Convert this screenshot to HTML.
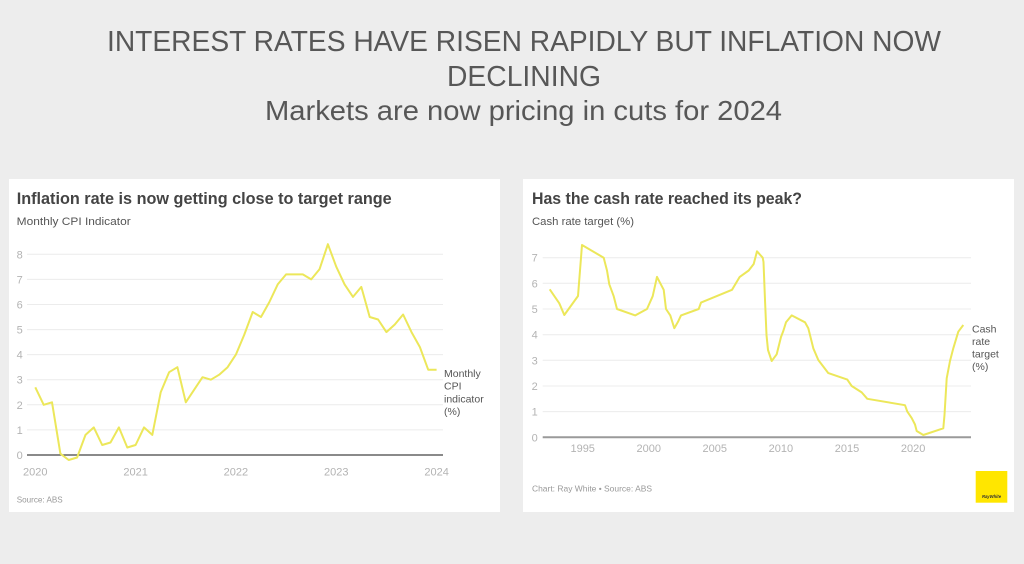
<!DOCTYPE html>
<html>
<head>
<meta charset="utf-8">
<style>
html,body{margin:0;padding:0;background:#ededed;}
svg{display:block;}
text{font-family:"Liberation Sans",sans-serif;}
</style>
</head>
<body>
<svg width="1024" height="564" viewBox="0 0 1024 564" xmlns="http://www.w3.org/2000/svg">
<rect x="0" y="0" width="1024" height="564" fill="#ededed"/>

<!-- Main titles -->
<text x="524" y="51" text-anchor="middle" font-size="29" fill="#575757" textLength="834" lengthAdjust="spacingAndGlyphs">INTEREST RATES HAVE RISEN RAPIDLY BUT INFLATION NOW</text>
<text x="524" y="86" text-anchor="middle" font-size="29" fill="#575757" textLength="154" lengthAdjust="spacingAndGlyphs">DECLINING</text>
<text x="523.5" y="120" text-anchor="middle" font-size="28" fill="#575757" textLength="517" lengthAdjust="spacingAndGlyphs">Markets are now pricing in cuts for 2024</text>

<!-- Panels -->
<rect x="9" y="179" width="491" height="333" fill="#ffffff"/>
<rect x="523" y="179" width="491" height="333" fill="#ffffff"/>

<!-- ===== Chart 1 ===== -->
<text x="16.7" y="204" font-size="17" font-weight="bold" fill="#444" textLength="375" lengthAdjust="spacingAndGlyphs">Inflation rate is now getting close to target range</text>
<text x="16.7" y="225" font-size="11" fill="#555" textLength="114" lengthAdjust="spacingAndGlyphs">Monthly CPI Indicator</text>

<g stroke="#ececec" stroke-width="1">
<line x1="27" y1="429.9" x2="443" y2="429.9"/>
<line x1="27" y1="404.8" x2="443" y2="404.8"/>
<line x1="27" y1="379.7" x2="443" y2="379.7"/>
<line x1="27" y1="354.6" x2="443" y2="354.6"/>
<line x1="27" y1="329.6" x2="443" y2="329.6"/>
<line x1="27" y1="304.5" x2="443" y2="304.5"/>
<line x1="27" y1="279.4" x2="443" y2="279.4"/>
<line x1="27" y1="254.3" x2="443" y2="254.3"/>
</g>
<line x1="27" y1="455" x2="443" y2="455" stroke="#444" stroke-width="1.2"/>

<g font-size="11" fill="#b3b3b3" text-anchor="middle">
<text x="19.7" y="459">0</text>
<text x="19.7" y="433.9">1</text>
<text x="19.7" y="408.8">2</text>
<text x="19.7" y="383.7">3</text>
<text x="19.7" y="358.6">4</text>
<text x="19.7" y="333.6">5</text>
<text x="19.7" y="308.5">6</text>
<text x="19.7" y="283.4">7</text>
<text x="19.7" y="258.3">8</text>
<text x="35.3" y="475.5">2020</text>
<text x="135.6" y="475.5">2021</text>
<text x="235.9" y="475.5">2022</text>
<text x="336.3" y="475.5">2023</text>
<text x="436.6" y="475.5">2024</text>
</g>

<polyline fill="none" stroke="#ece75a" stroke-width="2" stroke-linejoin="round" points="35.3,387.3 43.7,404.8 52.0,402.3 60.4,453.7 68.7,460.0 77.1,457.5 85.5,434.9 93.8,427.4 102.2,445.0 110.5,442.5 118.9,427.4 127.3,447.5 135.6,445.0 144.0,427.4 152.3,434.9 160.7,392.3 169.1,372.2 177.4,367.2 185.8,402.3 194.1,389.8 202.5,377.2 210.9,379.7 219.2,374.7 227.6,367.2 235.9,354.6 244.3,334.6 252.7,312.0 261.0,317.0 269.4,302.0 277.7,284.4 286.1,274.4 294.5,274.4 302.8,274.4 311.2,279.4 319.5,269.3 327.9,244.2 336.3,266.8 344.6,284.4 353.0,296.9 361.3,286.9 369.7,317.0 378.1,319.5 386.4,332.1 394.8,324.5 403.1,314.5 411.5,332.1 419.9,347.1 428.2,369.7 436.6,369.7"/>

<g font-size="10.5" fill="#555">
<text x="444" y="377">Monthly</text>
<text x="444" y="389.7">CPI</text>
<text x="444" y="402.4">indicator</text>
<text x="444" y="415">(%)</text>
</g>

<text x="16.7" y="502.5" font-size="8.5" fill="#999" textLength="46" lengthAdjust="spacingAndGlyphs">Source: ABS</text>

<!-- ===== Chart 2 ===== -->
<text x="532" y="204" font-size="17" font-weight="bold" fill="#444" textLength="270" lengthAdjust="spacingAndGlyphs">Has the cash rate reached its peak?</text>
<text x="532" y="225" font-size="11" fill="#555" textLength="102" lengthAdjust="spacingAndGlyphs">Cash rate target (%)</text>

<g stroke="#ececec" stroke-width="1">
<line x1="542.7" y1="411.6" x2="971" y2="411.6"/>
<line x1="542.7" y1="386.0" x2="971" y2="386.0"/>
<line x1="542.7" y1="360.3" x2="971" y2="360.3"/>
<line x1="542.7" y1="334.7" x2="971" y2="334.7"/>
<line x1="542.7" y1="309.0" x2="971" y2="309.0"/>
<line x1="542.7" y1="283.3" x2="971" y2="283.3"/>
<line x1="542.7" y1="257.7" x2="971" y2="257.7"/>
</g>
<line x1="542.7" y1="437.3" x2="971" y2="437.3" stroke="#9a9a9a" stroke-width="2"/>

<g font-size="11" fill="#b3b3b3" text-anchor="middle">
<text x="534.7" y="441.3">0</text>
<text x="534.7" y="415.6">1</text>
<text x="534.7" y="390">2</text>
<text x="534.7" y="364.3">3</text>
<text x="534.7" y="338.7">4</text>
<text x="534.7" y="313">5</text>
<text x="534.7" y="287.3">6</text>
<text x="534.7" y="261.7">7</text>
<text x="582.7" y="452">1995</text>
<text x="648.8" y="452">2000</text>
<text x="714.8" y="452">2005</text>
<text x="780.9" y="452">2010</text>
<text x="847" y="452">2015</text>
<text x="913.1" y="452">2020</text>
</g>

<polyline fill="none" stroke="#ece75a" stroke-width="2" stroke-linejoin="round" points="549.7,289.3 559.3,303.3 564.3,315 578,296 582,245 603.7,257.7 607,270.5 609.3,284.3 613.7,296.2 617,309 635.3,315.4 647,309 652.7,296.2 657,276.9 663.7,289.8 666,309 670.3,315.4 674.3,328.2 678,321.8 681,315.4 698.7,309 701,302.6 732,289.8 739.7,276.9 748.7,270.5 753.7,264 757,251.3 762.7,257.7 763.5,262 765,300 766.5,335 768,350 771.7,361 776.7,354.3 779,345 781,337 783.3,331 786,322.3 791.7,315.4 805,322.3 808.3,328.2 813.3,348.3 818.3,360 828.3,373.1 847.3,379.6 851.7,386 861.7,392.4 867.3,398.8 905,405.2 907.3,411.6 911.7,418.1 915,424.5 916.7,431 923.3,435 943.3,428.3 944.5,415 946.7,378.3 950,361 953.3,348.3 958.3,331.7 963.3,325"/>

<g font-size="10.5" fill="#555">
<text x="972" y="332.5">Cash</text>
<text x="972" y="345">rate</text>
<text x="972" y="357.5">target</text>
<text x="972" y="370">(%)</text>
</g>

<text x="532" y="491.5" font-size="8.5" fill="#999" textLength="120" lengthAdjust="spacingAndGlyphs">Chart: Ray White • Source: ABS</text>

<rect x="975.7" y="471" width="31.6" height="31.7" fill="#ffe600"/>
<text x="991.5" y="498" font-size="4.2" font-weight="bold" font-style="italic" fill="#333" text-anchor="middle">RayWhite</text>
</svg>
</body>
</html>
